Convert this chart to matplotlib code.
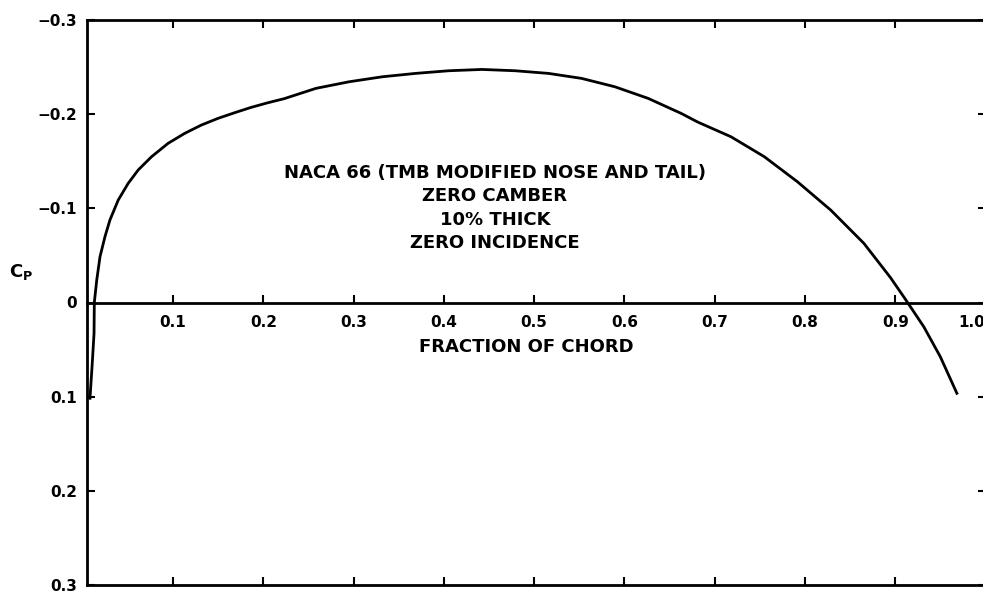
import matplotlib
matplotlib.use("Agg")
import matplotlib.pyplot as plt

# pressure distribution (fraction of chord, Cp)
chord = [0.008, 0.0103, 0.0125, 0.0128, 0.0155, 0.0191, 0.0246, 0.0301,
         0.0393, 0.0503, 0.0614, 0.0762, 0.0945, 0.1129, 0.1313, 0.1497,
         0.1681, 0.1865, 0.2049, 0.2233, 0.2583, 0.295, 0.3318, 0.3687,
         0.4054, 0.4422, 0.479, 0.5158, 0.5525, 0.5894, 0.6262, 0.6629,
         0.6815, 0.7181, 0.755, 0.7917, 0.8285, 0.8653, 0.8947, 0.9113,
         0.9316, 0.9499, 0.9683]
cp = [0.1017, 0.068, 0.0327, 0.0, -0.0239, -0.0486, -0.0699, -0.0876,
      -0.1088, -0.1265, -0.1407, -0.1548, -0.169, -0.1796, -0.1884, -0.1955,
      -0.2015, -0.2072, -0.2121, -0.2165, -0.2274, -0.2344, -0.2397, -0.2433,
      -0.2461, -0.2475, -0.2461, -0.2433, -0.238, -0.2291, -0.2168, -0.2008,
      -0.1915, -0.176, -0.1548, -0.1282, -0.0982, -0.0628, -0.0265, -0.0034,
      0.0257, 0.0575, 0.0964]

x_ticks = [0.1, 0.2, 0.3, 0.4, 0.5, 0.6, 0.7, 0.8, 0.9, 1.0]
x_labels = ["0.1", "0.2", "0.3", "0.4", "0.5", "0.6", "0.7", "0.8", "0.9", "1.0"]
y_ticks = [-0.3, -0.2, -0.1, 0.0, 0.1, 0.2, 0.3]
y_labels = ["\u22120.3", "\u22120.2", "\u22120.1", "0", "0.1", "0.2", "0.3"]
note = ["NACA 66 (TMB MODIFIED NOSE AND TAIL)", "ZERO CAMBER",
        "10% THICK", "ZERO INCIDENCE"]

plt.rcParams['font.family'] = ['DejaVu Sans']
plt.rcParams['font.weight'] = 'bold'

fig = plt.figure(figsize=(9.83, 5.96), dpi=100)
ax = fig.add_axes([87 / 983, 11 / 596, (985.5 - 87) / 983, 565 / 596])

ax.plot(chord, cp, color='black', lw=2.0, solid_joinstyle='round')

ax.set_xlim(0.0047, 1.0)
ax.set_ylim(0.3, -0.3)
for s in ax.spines.values():
    s.set_linewidth(2.0)

ax.set_xticks(x_ticks)
ax.tick_params(axis='x', which='both', direction='in', top=True, bottom=True,
               labelbottom=False, length=6, width=1.5)
ax.set_yticks(y_ticks)
ax.set_yticklabels(y_labels)
ax.tick_params(axis='y', direction='in', left=True, right=True,
               length=6, width=1.5, labelsize=11, pad=7)

# chord axis through Cp = 0
sec = ax.secondary_xaxis(0.5)
sec.set_alignment('bottom')
sec.spines['bottom'].set_linewidth(2.0)
sec.spines['top'].set_visible(False)
sec.set_xticks(x_ticks)
sec.set_xticklabels(x_labels)
sec.tick_params(axis='x', direction='in', length=6, width=1.5,
                labelsize=11, pad=9)
sec.get_xticklabels()[-1].set_horizontalalignment('right')
ax.text(0.489, 0.421, "FRACTION OF CHORD", transform=ax.transAxes,
        ha='center', va='center', fontsize=13, fontweight='bold')

ax.set_ylabel(r"$\mathbf{C_P}$", rotation=0, fontsize=13, ha='center',
              va='center')
ax.yaxis.set_label_coords(-0.073, 0.554)

ax.text(0.454, 0.667, "\n".join(note), transform=ax.transAxes, ha='center',
        va='center', fontsize=13, fontweight='bold', linespacing=1.38)

fig.savefig("out.png", dpi=100)
